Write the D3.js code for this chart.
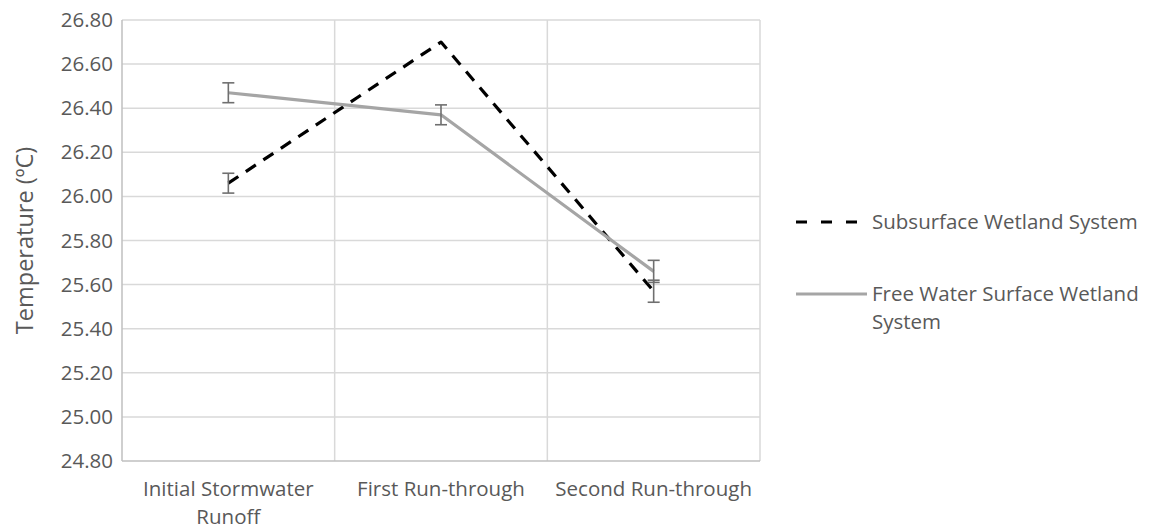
<!DOCTYPE html>
<html>
<head>
<meta charset="utf-8">
<script src="https://cdn.jsdelivr.net/npm/d3@7"></script>
<style>
  html, body { margin: 0; padding: 0; background: #fff; }
  svg { display: block; }
  text { font-family: "Open Sans", "Noto Sans", sans-serif; fill: #595959; }
</style>
</head>
<body>
<svg id="chart" width="1155" height="529"></svg>
<script>
// Sampling stages along the x axis (second element = wrapped line)
const categories = [
  ["Initial Stormwater", "Runoff"],
  ["First Run-through"],
  ["Second Run-through"]
];
const stageKeys = ["Initial Stormwater Runoff", "First Run-through", "Second Run-through"];

// Mean temperature (ºC) and error-bar half-widths per wetland system
const subsurfaceValues = [26.06, 26.70, 25.57];
const subsurfaceErrors = [0.045, 0, 0.05];
const freeWaterValues = [26.47, 26.37, 25.66];
const freeWaterErrors = [0.045, 0.045, 0.05];

const yTicks = [24.8, 25.0, 25.2, 25.4, 25.6, 25.8, 26.0, 26.2, 26.4, 26.6, 26.8];

const series = [
  { name: ["Subsurface Wetland System"], values: subsurfaceValues, errors: subsurfaceErrors,
    color: "#000000", dash: "12,9" },
  { name: ["Free Water Surface Wetland", "System"], values: freeWaterValues, errors: freeWaterErrors,
    color: "#a5a5a5", dash: null }
];

const svg = d3.select("#chart");
const plot = { left: 122, right: 760, top: 20, bottom: 461 };
const labelSize = "20.5px";

const x = d3.scaleBand().domain(stageKeys).range([plot.left, plot.right]).padding(0);
const y = d3.scaleLinear().domain([24.8, 26.8]).range([plot.bottom, plot.top]);

// Horizontal gridlines
svg.append("g").selectAll("line").data(yTicks.slice(1)).join("line")
  .attr("x1", plot.left).attr("x2", plot.right)
  .attr("y1", d => y(d)).attr("y2", d => y(d))
  .attr("stroke", "#d9d9d9").attr("stroke-width", 1.5);

// Vertical gridlines at category boundaries
const bounds = stageKeys.map(k => x(k)).slice(1).concat([x(stageKeys[2]) + x.bandwidth()]);
svg.append("g").selectAll("line").data(bounds).join("line")
  .attr("x1", d => d).attr("x2", d => d)
  .attr("y1", plot.top).attr("y2", plot.bottom)
  .attr("stroke", "#d9d9d9").attr("stroke-width", 1.5);

// Axis lines
svg.append("line").attr("x1", plot.left).attr("x2", plot.left)
  .attr("y1", plot.top).attr("y2", plot.bottom)
  .attr("stroke", "#bfbfbf").attr("stroke-width", 1.5);
svg.append("line").attr("x1", plot.left).attr("x2", plot.right)
  .attr("y1", plot.bottom).attr("y2", plot.bottom)
  .attr("stroke", "#bfbfbf").attr("stroke-width", 1.5);

// Y tick labels
const yAxis = d3.axisLeft(y).tickValues(yTicks).tickFormat(d3.format(".2f")).tickSize(0).tickPadding(9);
const yg = svg.append("g").attr("transform", `translate(${plot.left},0)`).call(yAxis);
yg.select(".domain").remove();
yg.selectAll("text").style("font-size", labelSize).attr("fill", "#595959")
  .style("font-family", '"Open Sans", sans-serif');

// Y axis title
svg.append("text")
  .attr("transform", `translate(33,${(plot.top + plot.bottom) / 2}) rotate(-90)`)
  .attr("text-anchor", "middle")
  .style("font-size", "23.5px")
  .text("Temperature (ºC)");

// X category labels
const xl = svg.append("g").selectAll("text").data(categories).join("text")
  .attr("x", (d, i) => x(stageKeys[i]) + x.bandwidth() / 2)
  .attr("y", 496)
  .attr("text-anchor", "middle")
  .style("font-size", labelSize);
xl.selectAll("tspan").data(d => d).join("tspan")
  .attr("x", function () { return d3.select(this.parentNode).attr("x"); })
  .attr("dy", (d, i) => i === 0 ? 0 : 28)
  .text(d => d);

// Series lines
const line = d3.line().x((d, i) => x(stageKeys[i]) + x.bandwidth() / 2).y(d => y(d));
series.forEach(s => {
  svg.append("path").datum(s.values)
    .attr("d", line)
    .attr("fill", "none")
    .attr("stroke", s.color)
    .attr("stroke-width", 3.2)
    .attr("stroke-linejoin", "round")
    .attr("stroke-dasharray", s.dash);
});

// Error bars
series.forEach(s => {
  const g = svg.append("g").attr("stroke", "#6f6f6f").attr("stroke-width", 1.6);
  s.values.forEach((v, i) => {
    const e = s.errors[i];
    if (!e) return;
    const cx = x(stageKeys[i]) + x.bandwidth() / 2;
    g.append("line").attr("x1", cx).attr("x2", cx).attr("y1", y(v - e)).attr("y2", y(v + e));
    [v - e, v + e].forEach(t => {
      g.append("line").attr("x1", cx - 6).attr("x2", cx + 6).attr("y1", y(t)).attr("y2", y(t));
    });
  });
});

// Legend
const legend = svg.append("g");
series.forEach((s, i) => {
  const ly = 222 + i * 72;
  legend.append("line")
    .attr("x1", 796).attr("x2", 867).attr("y1", ly).attr("y2", ly)
    .attr("stroke", s.color).attr("stroke-width", 3.2)
    .attr("stroke-dasharray", s.dash ? "11,14" : null);
  const t = legend.append("text").attr("x", 872).attr("y", ly + 7).style("font-size", labelSize);
  t.selectAll("tspan").data(s.name).join("tspan")
    .attr("x", 872).attr("dy", (d, j) => j === 0 ? 0 : 28).text(d => d);
});
</script>
</body>
</html>
